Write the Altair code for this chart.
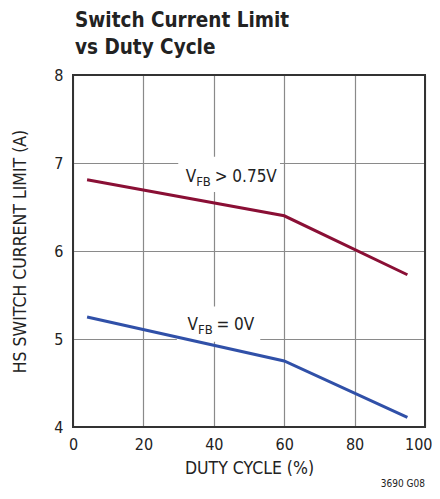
import altair as alt
import pandas as pd

# Data
duty_hi = [4, 60, 95]
limit_hi = [6.81, 6.40, 5.73]
duty_lo = [4, 60, 95]
limit_lo = [5.25, 4.75, 4.11]
series_names = ["VFB > 0.75V", "VFB = 0V"]
series_colors = ["#8a0f35", "#3050a8"]

x_ticks = [0, 20, 40, 60, 80, 100]
y_ticks = [4, 5, 6, 7, 8]

FONT = "DejaVu Sans Condensed, sans-serif"

df = pd.DataFrame({
    "duty": duty_hi + duty_lo,
    "limit": limit_hi + limit_lo,
    "series": [series_names[0]] * len(duty_hi) + [series_names[1]] * len(duty_lo),
})

xs = alt.Scale(domain=[0, 100], nice=False, zero=False)
ys = alt.Scale(domain=[4, 8], nice=False, zero=False)

base = alt.Chart(df)

axes = base.mark_point(opacity=0).encode(
    x=alt.X("duty:Q", scale=xs, title="DUTY CYCLE (%)",
            axis=alt.Axis(values=x_ticks, format="d", grid=True, ticks=False, domain=False,
                          labelFontSize=16, titleFontSize=17.5, labelPadding=9,
                          titlePadding=7, labelFont=FONT, titleFont=FONT,
                          labelAlign=alt.ExprRef("datum.value == 100 ? 'right' : 'center'"),
                          labelOffset=alt.ExprRef("datum.value == 100 ? 7 : 0"),
                          titleFontWeight="normal", labelColor="#222", titleColor="#222",
                          gridColor="#8a8a8a", gridWidth=1.2, labelFlush=False)),
    y=alt.Y("limit:Q", scale=ys, title="HS SWITCH CURRENT LIMIT (A)",
            axis=alt.Axis(values=y_ticks, format="d", grid=True, ticks=False, domain=False,
                          labelFontSize=16, titleFontSize=17.5, labelPadding=10,
                          titlePadding=24, labelFont=FONT, titleFont=FONT,
                          titleFontWeight="normal", labelColor="#222", titleColor="#222",
                          gridColor="#8a8a8a", gridWidth=1.2, labelFlush=False)),
)

box_df = pd.DataFrame({
    "x1": [29.9, 29.5], "x2": [58.8, 53.2],
    "y1": [7.07, 5.37], "y2": [6.67, 4.97],
})
boxes = alt.Chart(box_df).mark_rect(color="white").encode(
    x=alt.X("x1:Q", scale=xs), x2="x2:Q",
    y=alt.Y("y1:Q", scale=ys), y2="y2:Q",
)

lines = base.mark_line(strokeWidth=3).encode(
    x=alt.X("duty:Q", scale=xs),
    y=alt.Y("limit:Q", scale=ys),
    color=alt.Color("series:N", scale=alt.Scale(domain=series_names, range=series_colors), legend=None),
)

lab_df = pd.DataFrame({
    "x": [32.0, 32.5],
    "y": [6.785, 5.10],
    "rest": ["> 0.75V", "= 0V"],
})
v_txt = alt.Chart(lab_df).mark_text(align="left", baseline="alphabetic", fontSize=17,
                                     font=FONT, color="#222").encode(
    x=alt.X("x:Q", scale=xs), y=alt.Y("y:Q", scale=ys), text=alt.value("V"))
fb_txt = alt.Chart(lab_df).mark_text(align="left", baseline="alphabetic", fontSize=13,
                                      font=FONT, color="#222", dx=10.5, dy=4).encode(
    x=alt.X("x:Q", scale=xs), y=alt.Y("y:Q", scale=ys), text=alt.value("FB"))
rest_txt = alt.Chart(lab_df).mark_text(align="left", baseline="alphabetic", fontSize=17,
                                        font=FONT, color="#222", dx=29).encode(
    x=alt.X("x:Q", scale=xs), y=alt.Y("y:Q", scale=ys), text="rest:N")

frame = alt.Chart(pd.DataFrame({"a": [0]})).mark_rect(
    fill=None, stroke="#333", strokeWidth=2).encode(
    x=alt.value(0), x2=alt.value(352), y=alt.value(0), y2=alt.value(352))

note = alt.Chart(pd.DataFrame({"t": ["3690 G08"]})).mark_text(
    align="right", baseline="alphabetic", fontSize=10, font=FONT, color="#222").encode(
    x=alt.value(352), y=alt.value(412), text="t:N")

chart = alt.layer(axes, boxes, lines, v_txt, fb_txt, rest_txt, frame, note).properties(
    width=352, height=352,
    title=alt.TitleParams(["Switch Current Limit", "vs Duty Cycle"], anchor="start",
                          frame="group", font=FONT, fontSize=20.5, fontWeight="bold",
                          lineHeight=27, color="#222", offset=9, dx=2),
    autosize=alt.AutoSizeParams(type="none"),
    padding={"left": 65, "top": 67, "right": 7, "bottom": 61},
).configure_view(stroke=None)

chart.save("out.html", embed_options={"renderer": "svg", "actions": False})
